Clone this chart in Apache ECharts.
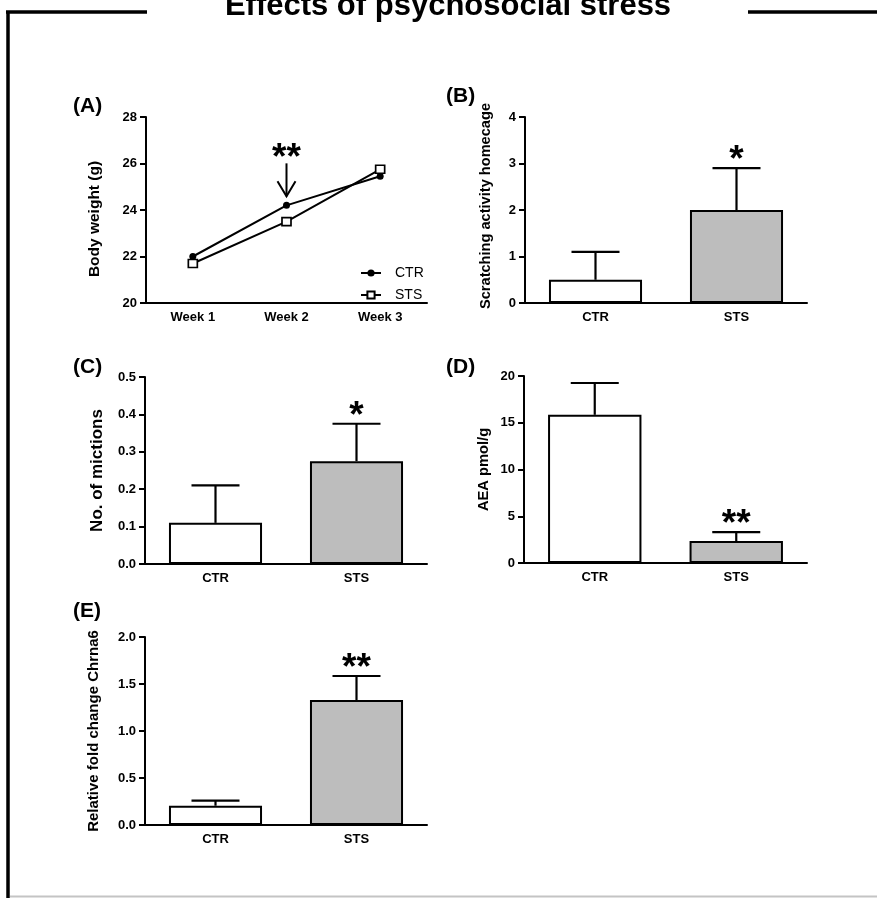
<!DOCTYPE html>
<html>
<head>
<meta charset="utf-8">
<script src="https://cdn.jsdelivr.net/npm/echarts@6/dist/echarts.min.js"></script>
<style>
html,body{margin:0;padding:0;background:#fff;}
#chart{width:877px;height:898px;}
</style>
</head>
<body>
<div id="chart"></div>
<script>
// ---------- data ----------
const weekCats = ['Week 1', 'Week 2', 'Week 3'];
const ctrWeight = [22.0, 24.2, 25.45];
const stsWeight = [21.7, 23.5, 25.75];
const weightSig = ['', '**', ''];

const groups = ['CTR', 'STS'];
const scratchMean = [0.5, 2.0];
const scratchSem = [0.6, 0.9];
const scratchSig = ['', '*'];

const mictionMean = [0.11, 0.275];
const mictionSem = [0.10, 0.10];
const mictionSig = ['', '*'];

const aeaMean = [15.85, 2.35];
const aeaSem = [3.4, 0.95];
const aeaSig = ['', '**'];

const chrnaMean = [0.205, 1.33];
const chrnaSem = [0.055, 0.255];
const chrnaSig = ['', '**'];

const yTicksA = {min: 20, max: 28, interval: 2};
const yTicksB = {min: 0, max: 4, interval: 1};
const yTicksC = {min: 0, max: 0.5, interval: 0.1};
const yTicksD = {min: 0, max: 20, interval: 5};
const yTicksE = {min: 0, max: 2, interval: 0.5};

// ---------- styling ----------
const FONT = 'Liberation Sans, Arial, sans-serif';
const barFill = ['#ffffff', '#bdbdbd'];
const STAR_FONT = 'bold 37px ' + FONT;

const chart = echarts.init(document.getElementById('chart'), null, {renderer: 'canvas'});

const grids = [
  {left: 146, top: 117, width: 281, height: 186},
  {left: 525, top: 117, width: 282, height: 186},
  {left: 145, top: 377, width: 282, height: 187},
  {left: 524, top: 376, width: 283, height: 187},
  {left: 145, top: 637, width: 282, height: 188}
];

function xAx(gi, data) {
  return {
    type: 'category', gridIndex: gi, data: data,
    axisLine: {lineStyle: {color: '#000', width: 2}},
    axisTick: {show: false},
    axisLabel: {color: '#000', fontFamily: FONT, fontWeight: 'bold', fontSize: 13, margin: 8}
  };
}
function yAx(gi, ticks, name, gap, nameSize, namePad, fmt) {
  return {
    type: 'value', gridIndex: gi, min: ticks.min, max: ticks.max, interval: ticks.interval,
    name: name, nameLocation: 'middle', nameGap: gap,
    nameTextStyle: {color: '#000', fontFamily: FONT, fontWeight: 'bold', fontSize: nameSize,
      padding: namePad},
    axisLine: {show: true, lineStyle: {color: '#000', width: 2}},
    axisTick: {show: true, length: 6, lineStyle: {color: '#000', width: 2}},
    splitLine: {show: false},
    axisLabel: {color: '#000', fontFamily: FONT, fontWeight: 'bold', fontSize: 13, margin: 9,
      formatter: fmt || null}
  };
}

function barSeries(gi, name, means) {
  return {
    type: 'bar', name: name, xAxisIndex: gi, yAxisIndex: gi,
    barWidth: '66%',
    data: means.map((v, i) => ({value: v, itemStyle: {color: barFill[i]}})),
    itemStyle: {borderColor: '#000', borderWidth: 2},
    z: 2
  };
}
function errSeries(gi, name, means, sems, sigs) {
  return {
    type: 'custom', name: name + ' err', xAxisIndex: gi, yAxisIndex: gi, z: 3,
    data: means.map((v, i) => [i, v, v + sems[i]]),
    renderItem: function (params, api) {
      const i = api.value(0);
      const p0 = api.coord([i, api.value(1)]);
      const p1 = api.coord([i, api.value(2)]);
      const st = {stroke: '#000', lineWidth: 2.2};
      return {
        type: 'group',
        children: [
          {type: 'line', shape: {x1: p0[0], y1: p0[1], x2: p1[0], y2: p1[1]}, style: st},
          {type: 'line', shape: {x1: p1[0] - 24, y1: p1[1], x2: p1[0] + 24, y2: p1[1]}, style: st},
          {type: 'text', x: p1[0], y: p1[1] - 7,
            style: {text: sigs[params.dataIndex], fill: '#000', font: STAR_FONT,
              textAlign: 'center', textVerticalAlign: 'middle'}}
        ]
      };
    }
  };
}

const panelLabel = (txt, x, y) => ({
  type: 'text', left: x, top: y,
  style: {text: txt, fill: '#000', font: 'bold 21px ' + FONT}
});

const option = {
  animation: false,
  backgroundColor: '#fff',
  grid: grids,
  legend: {
    data: ['CTR', 'STS'], orient: 'vertical', left: 355, top: 261,
    itemWidth: 20, itemHeight: 9, itemGap: 8,
    textStyle: {color: '#000', fontFamily: FONT, fontSize: 14, padding: [0, 0, 0, 9]},
    selectedMode: false
  },
  xAxis: [
    xAx(0, weekCats), xAx(1, groups), xAx(2, groups), xAx(3, groups), xAx(4, groups)
  ],
  yAxis: [
    yAx(0, yTicksA, 'Body weight (g)', 43, 15.5, [0, 18, 0, 0]),
    yAx(1, yTicksB, 'Scratching activity homecage', 32, 14.6, [0, 0, 0, 8]),
    yAx(2, yTicksC, 'No. of mictions', 39, 17, [0, 0, 0, 0], v => v.toFixed(1)),
    yAx(3, yTicksD, 'AEA pmol/g', 33, 14.7, [0, 0, 0, 0]),
    yAx(4, yTicksE, 'Relative fold change Chrna6', 44, 15, [0, 0, 0, 0], v => v.toFixed(1))
  ],
  series: [
    {
      type: 'line', name: 'CTR', xAxisIndex: 0, yAxisIndex: 0, data: ctrWeight,
      symbol: 'circle', symbolSize: 7,
      lineStyle: {color: '#000', width: 2},
      itemStyle: {color: '#000'}, z: 3
    },
    {
      type: 'line', name: 'STS', xAxisIndex: 0, yAxisIndex: 0, data: stsWeight,
      symbol: 'rect', symbolSize: [9, 8],
      lineStyle: {color: '#000', width: 2},
      itemStyle: {color: '#fff', borderColor: '#000', borderWidth: 1.6}, z: 4
    },
    {
      type: 'custom', name: 'weight sig', xAxisIndex: 0, yAxisIndex: 0, z: 5,
      data: ctrWeight.map((v, i) => [i, v]),
      renderItem: function (params, api) {
        const s = weightSig[params.dataIndex];
        if (!s) return null;
        const p = api.coord([api.value(0), api.value(1)]);
        const x = p[0], y = p[1];
        const st = {stroke: '#000', lineWidth: 2, fill: null};
        return {
          type: 'group',
          children: [
            {type: 'line', shape: {x1: x, y1: y - 42, x2: x, y2: y - 9}, style: st},
            {type: 'polyline', shape: {points: [[x - 9, y - 24], [x, y - 9], [x + 9, y - 24]]}, style: st},
            {type: 'text', x: x, y: y - 47,
              style: {text: s, fill: '#000', font: STAR_FONT,
                textAlign: 'center', textVerticalAlign: 'middle'}}
          ]
        };
      }
    },
    barSeries(1, 'scratch', scratchMean), errSeries(1, 'scratch', scratchMean, scratchSem, scratchSig),
    barSeries(2, 'miction', mictionMean), errSeries(2, 'miction', mictionMean, mictionSem, mictionSig),
    barSeries(3, 'aea', aeaMean), errSeries(3, 'aea', aeaMean, aeaSem, aeaSig),
    barSeries(4, 'chrna', chrnaMean), errSeries(4, 'chrna', chrnaMean, chrnaSem, chrnaSig)
  ],
  graphic: [
    // frame
    {type: 'line', shape: {x1: 8, y1: 12, x2: 8, y2: 898}, style: {stroke: '#000', lineWidth: 3.5}},
    {type: 'line', shape: {x1: 6, y1: 12, x2: 147, y2: 12}, style: {stroke: '#000', lineWidth: 3.5}},
    {type: 'line', shape: {x1: 748, y1: 12, x2: 877, y2: 12}, style: {stroke: '#000', lineWidth: 3.5}},
    {type: 'line', shape: {x1: 10, y1: 896.5, x2: 877, y2: 896.5}, style: {stroke: '#c4c4c4', lineWidth: 2}},
    // title
    {type: 'text', x: 448, y: 6,
      style: {text: 'Effects of psychosocial stress', fill: '#000', font: 'bold 31px ' + FONT,
        textAlign: 'center', textVerticalAlign: 'middle'}},
    panelLabel('(A)', 73, 96),
    panelLabel('(B)', 446, 86),
    panelLabel('(C)', 73, 357),
    panelLabel('(D)', 446, 357),
    panelLabel('(E)', 73, 601)
  ]
};
chart.setOption(option);
</script>
</body>
</html>
